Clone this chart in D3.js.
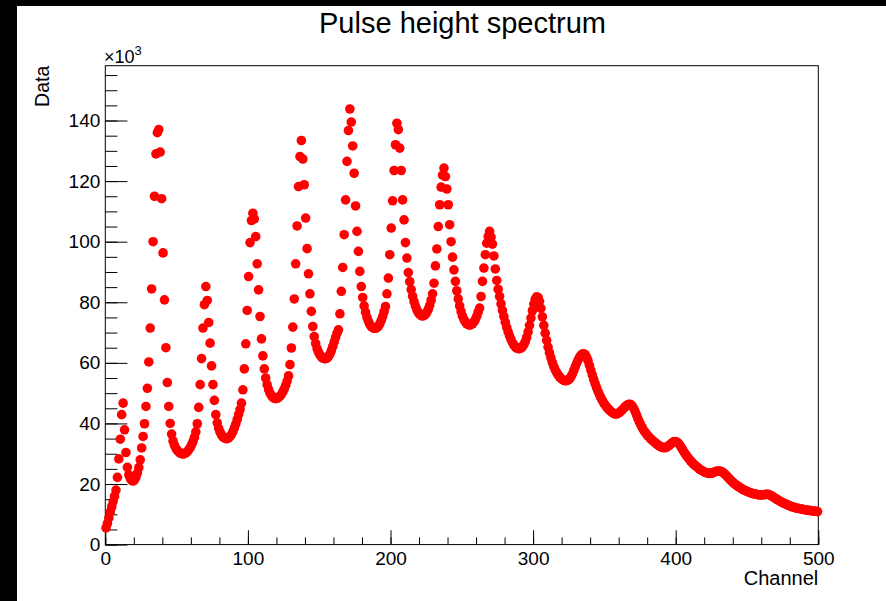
<!DOCTYPE html>
<html>
<head>
<meta charset="utf-8">
<script src="https://cdn.jsdelivr.net/npm/d3@7"></script>
<style>
  html, body { margin: 0; padding: 0; background: #000; }
  svg { display: block; }
  text { font-family: "Liberation Sans", Arial, Helvetica, sans-serif; fill: #000; }
</style>
</head>
<body>
<div id="chart"></div>
<script>
// counts per channel bin, in units of 10^3 (bins 0..499)
var counts = [
  5.5, 7.0, 8.8, 10.8, 12.5, 14.2, 16.0, 18.0, 22.2, 28.3,
  34.8, 42.9, 46.7, 37.9, 30.4, 25.5, 23.0, 21.8, 21.2, 21.0,
  21.4, 22.3, 23.6, 25.4, 28.0, 31.9, 35.7, 39.9, 45.6, 51.6,
  60.3, 71.5, 84.4, 100.0, 115.0, 129.0, 136.0, 137.0, 129.6, 114.2,
  96.3, 80.8, 65.0, 53.5, 45.6, 40.0, 36.5, 34.2, 32.8, 31.8,
  31.1, 30.6, 30.2, 30.0, 29.9, 30.0, 30.3, 30.7, 31.3, 32.0,
  32.9, 34.0, 35.4, 37.2, 39.9, 45.3, 52.8, 61.4, 71.5, 79.2,
  85.2, 80.6, 73.3, 66.5, 59.0, 52.8, 47.6, 42.9, 40.2, 38.4,
  37.1, 36.2, 35.6, 35.2, 35.0, 35.0, 35.2, 35.7, 36.4, 37.3,
  38.5, 39.8, 41.3, 43.0, 44.6, 46.7, 51.1, 58.0, 66.3, 77.3,
  88.5, 99.7, 107.0, 109.4, 107.5, 101.7, 92.7, 84.1, 75.3, 67.9,
  62.3, 58.0, 55.0, 52.8, 51.2, 50.0, 49.2, 48.6, 48.3, 48.2,
  48.3, 48.6, 49.0, 49.6, 50.4, 51.4, 52.6, 54.0, 55.7, 59.4,
  64.9, 71.8, 81.1, 92.7, 105.2, 118.2, 128.1, 133.4, 127.3, 118.8,
  107.8, 97.7, 89.4, 82.8, 77.0, 72.0, 68.7, 66.4, 64.7, 63.5,
  62.6, 62.0, 61.6, 61.4, 61.4, 61.6, 62.1, 62.9, 64.0, 65.4,
  66.9, 68.4, 69.8, 70.9, 76.2, 83.6, 91.5, 102.3, 113.8, 126.5,
  136.7, 143.8, 139.5, 131.6, 122.6, 111.8, 103.4, 96.8, 90.2, 85.2,
  81.6, 78.8, 76.7, 75.0, 73.7, 72.7, 72.0, 71.6, 71.4, 71.4,
  71.6, 72.1, 72.9, 74.0, 75.3, 76.9, 78.6, 82.8, 88.0, 95.7,
  104.5, 113.5, 123.5, 132.0, 139.1, 137.0, 130.9, 123.5, 113.8, 107.2,
  99.7, 94.6, 89.8, 86.8, 84.2, 82.0, 80.2, 78.7, 77.5, 76.6,
  76.0, 75.6, 75.5, 75.6, 76.0, 76.7, 77.7, 79.0, 80.7, 82.8,
  86.3, 92.0, 97.6, 105.0, 112.2, 118.0, 122.0, 124.3, 121.5, 117.4,
  112.2, 105.6, 100.0, 94.9, 90.7, 86.9, 83.8, 81.1, 78.8, 76.9,
  75.4, 74.3, 73.5, 72.9, 72.6, 72.5, 72.6, 72.9, 73.5, 74.3,
  75.4, 76.8, 78.1, 81.9, 86.9, 91.3, 95.7, 99.5, 101.7, 103.4,
  101.5, 99.2, 95.3, 91.0, 87.2, 84.3, 81.9, 79.5, 77.3, 75.3,
  73.4, 71.7, 70.2, 68.9, 67.7, 66.7, 65.9, 65.3, 64.9, 64.7,
  64.7, 64.9, 65.3, 66.0, 67.0, 68.4, 70.2, 72.4, 74.8, 77.2,
  79.4, 81.0, 81.8, 81.6, 80.3, 78.0, 75.2, 72.4, 69.8, 67.4,
  65.2, 63.3, 61.6, 60.1, 58.8, 57.7, 56.8, 56.0, 55.4, 54.9,
  54.5, 54.2, 54.1, 54.1, 54.3, 54.7, 55.4, 56.3, 57.4, 58.6,
  59.8, 60.9, 61.8, 62.5, 62.9, 63.0, 62.7, 61.9, 60.7, 59.2,
  57.6, 56.0, 54.5, 53.1, 51.8, 50.6, 49.5, 48.5, 47.6, 46.8,
  46.1, 45.5, 44.9, 44.4, 44.0, 43.6, 43.3, 43.1, 43.1, 43.3,
  43.6, 44.0, 44.5, 45.0, 45.5, 45.9, 46.2, 46.3, 46.2, 45.7,
  45.0, 44.0, 42.8, 41.6, 40.5, 39.5, 38.6, 37.8, 37.1, 36.5,
  35.9, 35.4, 34.9, 34.5, 34.1, 33.7, 33.3, 32.9, 32.6, 32.3,
  32.1, 32.0, 32.0, 32.1, 32.4, 32.8, 33.2, 33.6, 33.9, 34.0,
  33.9, 33.6, 33.1, 32.4, 31.6, 30.8, 30.1, 29.4, 28.8, 28.2,
  27.6, 27.1, 26.6, 26.2, 25.8, 25.4, 25.0, 24.7, 24.4, 24.1,
  23.9, 23.7, 23.6, 23.5, 23.5, 23.6, 23.8, 24.0, 24.2, 24.3,
  24.3, 24.2, 24.0, 23.7, 23.3, 22.8, 22.3, 21.8, 21.3, 20.8,
  20.4, 20.0, 19.6, 19.3, 19.0, 18.7, 18.4, 18.1, 17.9, 17.7,
  17.5, 17.3, 17.1, 16.9, 16.8, 16.7, 16.6, 16.5, 16.4, 16.4,
  16.4, 16.4, 16.5, 16.6, 16.6, 16.5, 16.2, 16.0, 15.7, 15.4,
  15.1, 14.8, 14.5, 14.2, 14.0, 13.7, 13.5, 13.3, 13.1, 12.9,
  12.7, 12.5, 12.4, 12.2, 12.1, 12.0, 11.9, 11.8, 11.7, 11.6,
  11.5, 11.4, 11.3, 11.3, 11.2, 11.1, 11.1, 11.0, 11.0, 10.9
];

var xMajorTicks = [0, 100, 200, 300, 400, 500];
var yMajorTicks = [0, 20, 40, 60, 80, 100, 120, 140];

var titleText = "Pulse height spectrum";
var xTitle = "Channel";
var yTitle = "Data";

var W = 886, H = 601;
var frame = {left: 105.3, top: 65.7, right: 818.3, bottom: 544.6};

var svg = d3.select("#chart").append("svg")
  .attr("width", W)
  .attr("height", H);

// white pad on the black canvas
svg.append("rect")
  .attr("x", 17).attr("y", 6)
  .attr("width", W - 17).attr("height", H - 6)
  .attr("fill", "#fff");

var x = d3.scaleLinear().domain([0, 500]).range([frame.left, frame.right]);
var y = d3.scaleLinear().domain([0, 158.1]).range([frame.bottom, frame.top]);

var fw = frame.right - frame.left;
var fh = frame.bottom - frame.top;

// minor ticks
svg.append("g")
  .attr("transform", "translate(0," + frame.bottom + ")")
  .call(d3.axisBottom(x).tickValues(d3.range(0, 501, 20)).tickSize(-fh * 0.015).tickFormat(""))
  .call(function(g) { g.select(".domain").remove(); });

svg.append("g")
  .attr("transform", "translate(" + frame.left + ",0)")
  .call(d3.axisLeft(y).tickValues(d3.range(0, 158, 5)).tickSize(-fw * 0.017).tickFormat(""))
  .call(function(g) { g.select(".domain").remove(); });

// major ticks with labels
var xAxis = svg.append("g")
  .attr("transform", "translate(0," + frame.bottom + ")")
  .call(d3.axisBottom(x).tickValues(xMajorTicks).tickSize(-fh * 0.03).tickPadding(7))
  .call(function(g) { g.select(".domain").remove(); });

var yAxis = svg.append("g")
  .attr("transform", "translate(" + frame.left + ",0)")
  .call(d3.axisLeft(y).tickValues(yMajorTicks).tickSize(-fw * 0.031).tickPadding(5))
  .call(function(g) { g.select(".domain").remove(); });

svg.selectAll(".tick line").attr("stroke", "#000").attr("stroke-width", 1);
svg.selectAll(".tick text")
  .attr("font-size", 19)
  .attr("font-family", "'Liberation Sans', Arial, sans-serif")
  .attr("fill", "#000");

// frame
svg.append("rect")
  .attr("x", frame.left).attr("y", frame.top)
  .attr("width", fw).attr("height", fh)
  .attr("fill", "none")
  .attr("stroke", "#000")
  .attr("stroke-width", 1);

// data points
svg.append("g").selectAll("circle")
  .data(counts)
  .enter().append("circle")
  .attr("cx", function(d, i) { return x(i + 0.5); })
  .attr("cy", function(d) { return y(d); })
  .attr("r", 4.8)
  .attr("fill", "#ff0000");

// titles
svg.append("text")
  .attr("x", 462.5).attr("y", 33)
  .attr("text-anchor", "middle")
  .attr("font-size", 29)
  .text(titleText);

svg.append("text")
  .attr("x", frame.right).attr("y", 585)
  .attr("text-anchor", "end")
  .attr("font-size", 20)
  .text(xTitle);

svg.append("text")
  .attr("transform", "translate(49," + frame.top + ") rotate(-90)")
  .attr("text-anchor", "end")
  .attr("font-size", 19.5)
  .text(yTitle);

// exponent label
var expo = svg.append("text")
  .attr("x", 104).attr("y", 63)
  .attr("font-size", 18);
expo.append("tspan").text("\u00d710");
expo.append("tspan").attr("dy", -8).attr("font-size", 13).text("3");
</script>
</body>
</html>
